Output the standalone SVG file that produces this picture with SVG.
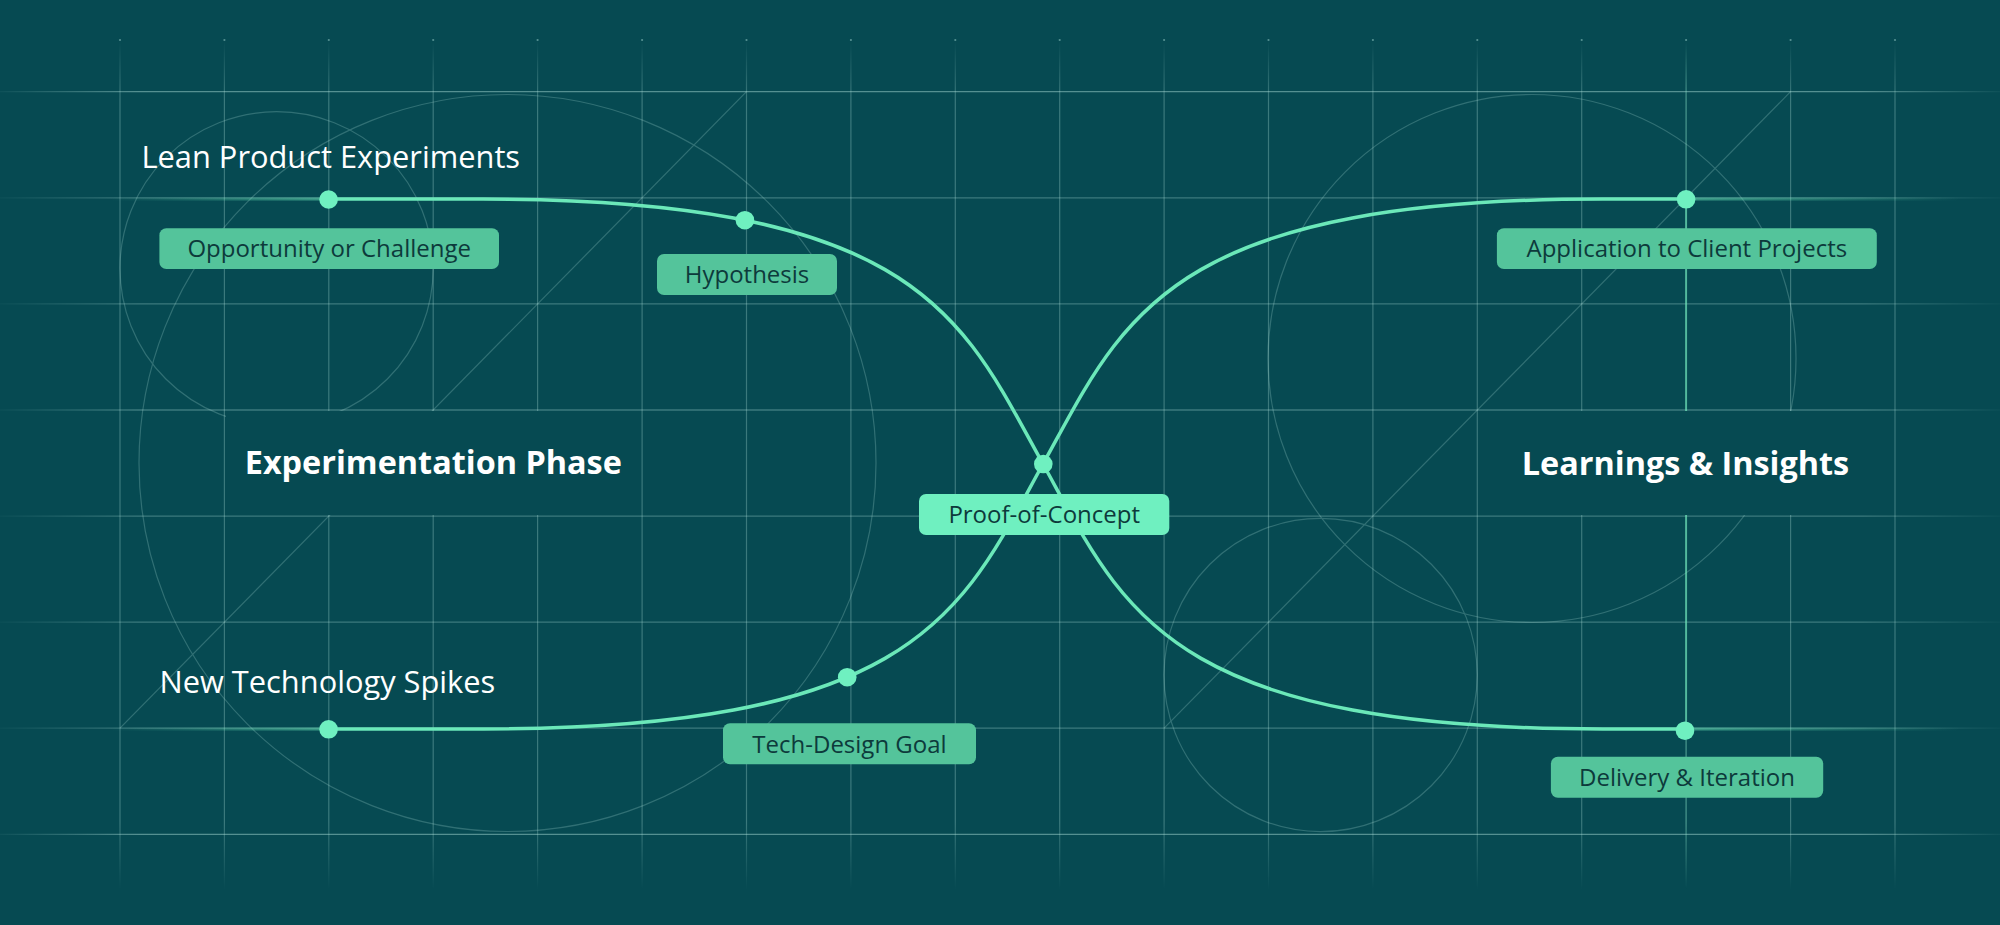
<svg xmlns="http://www.w3.org/2000/svg" width="2000" height="925" viewBox="0 0 2000 925">
  <defs>
    <linearGradient id="gv" gradientUnits="userSpaceOnUse" x1="0" y1="40" x2="0" y2="890">
      <stop offset="0" stop-color="#b5e6df" stop-opacity="0"/>
      <stop offset="0.07" stop-color="#b5e6df" stop-opacity="1"/>
      <stop offset="0.92" stop-color="#b5e6df" stop-opacity="1"/>
      <stop offset="1" stop-color="#b5e6df" stop-opacity="0"/>
    </linearGradient>
    <linearGradient id="gh" gradientUnits="userSpaceOnUse" x1="0" y1="0" x2="2000" y2="0">
      <stop offset="0" stop-color="#b5e6df" stop-opacity="0.1"/>
      <stop offset="0.07" stop-color="#b5e6df" stop-opacity="1"/>
      <stop offset="0.93" stop-color="#b5e6df" stop-opacity="1"/>
      <stop offset="1" stop-color="#b5e6df" stop-opacity="0.1"/>
    </linearGradient>
    <linearGradient id="gvg" gradientUnits="userSpaceOnUse" x1="0" y1="40" x2="0" y2="890">
      <stop offset="0" stop-color="#6be8b9" stop-opacity="0"/>
      <stop offset="0.07" stop-color="#6be8b9" stop-opacity="1"/>
      <stop offset="0.92" stop-color="#6be8b9" stop-opacity="1"/>
      <stop offset="1" stop-color="#6be8b9" stop-opacity="0"/>
    </linearGradient>
    <linearGradient id="tailL" gradientUnits="userSpaceOnUse" x1="110" y1="0" x2="328" y2="0">
      <stop offset="0" stop-color="#6be8b9" stop-opacity="0"/>
      <stop offset="1" stop-color="#6be8b9" stop-opacity="0.5"/>
    </linearGradient>
    <linearGradient id="tailR" gradientUnits="userSpaceOnUse" x1="1686" y1="0" x2="1960" y2="0">
      <stop offset="0" stop-color="#6be8b9" stop-opacity="0.5"/>
      <stop offset="1" stop-color="#6be8b9" stop-opacity="0"/>
    </linearGradient>
    <mask id="blocks" maskUnits="userSpaceOnUse" x="0" y="0" width="2000" height="925">
      <rect x="0" y="0" width="2000" height="925" fill="#fff"/>
      <rect x="226" y="411" width="414" height="104" fill="#000"/>
      <rect x="1479" y="411" width="414" height="104" fill="#000"/>
    </mask>
    <style>
      .vl { stroke: url(#gv); stroke-width: 1.2; fill: none; }
      .hl { stroke: url(#gh); stroke-width: 1.3; fill: none; }
      .deco { stroke: #b5e6df; stroke-width: 1.2; fill: none; }
      .tick { fill: #b5e6df; }
      .curve { stroke: #6be8b9; stroke-width: 3.5; fill: none; stroke-linecap: round; }
      .dot { fill: #6ff0c0; }
      .box { fill: #54c49b; }
      .boxhi { fill: #6ff0c0; }
      .lbl { font-family: 'Open Sans', 'Noto Sans', sans-serif; font-size: 24px; fill: #0d3a3b; text-anchor: middle; }
      .title { font-family: 'Open Sans', 'Noto Sans', sans-serif; font-size: 30.8px; fill: #ffffff; }
      .phase { font-family: 'Open Sans', 'Noto Sans', sans-serif; font-size: 32.4px; font-weight: 700; fill: #ffffff; text-anchor: middle; }
    </style>
  </defs>

  <rect id="background" x="0" y="0" width="2000" height="925" fill="#064a52"/>

  <g id="grid">
    <g opacity="0.3">
      <line class="hl" x1="0" y1="197.8" x2="2000" y2="197.8"/>
      <line class="hl" x1="0" y1="303.9" x2="2000" y2="303.9"/>
      <line class="hl" x1="0" y1="410" x2="2000" y2="410"/>
      <line class="hl" x1="0" y1="516.1" x2="2000" y2="516.1"/>
      <line class="hl" x1="0" y1="622.2" x2="2000" y2="622.2"/>
      <line class="hl" x1="0" y1="728.2" x2="2000" y2="728.2"/>
    </g>
    <g opacity="0.45">
      <line class="hl" x1="0" y1="91.7" x2="2000" y2="91.7" stroke-width="1.6"/>
      <line class="hl" x1="0" y1="834.3" x2="2000" y2="834.3" stroke-width="1.6"/>
    </g>
    <g opacity="0.3" mask="url(#blocks)">
      <line class="vl" x1="120" y1="40" x2="120" y2="890"/>
      <line class="vl" x1="224.4" y1="40" x2="224.4" y2="890"/>
      <line class="vl" x1="328.8" y1="40" x2="328.8" y2="890"/>
      <line class="vl" x1="433.2" y1="40" x2="433.2" y2="890"/>
      <line class="vl" x1="537.6" y1="40" x2="537.6" y2="890"/>
      <line class="vl" x1="642.1" y1="40" x2="642.1" y2="890"/>
      <line class="vl" x1="746.5" y1="40" x2="746.5" y2="890"/>
      <line class="vl" x1="850.9" y1="40" x2="850.9" y2="890"/>
      <line class="vl" x1="955.3" y1="40" x2="955.3" y2="890"/>
      <line class="vl" x1="1059.7" y1="40" x2="1059.7" y2="890"/>
      <line class="vl" x1="1164.1" y1="40" x2="1164.1" y2="890"/>
      <line class="vl" x1="1268.5" y1="40" x2="1268.5" y2="890"/>
      <line class="vl" x1="1372.9" y1="40" x2="1372.9" y2="890"/>
      <line class="vl" x1="1477.3" y1="40" x2="1477.3" y2="890"/>
      <line class="vl" x1="1581.7" y1="40" x2="1581.7" y2="890"/>
      <line class="vl" x1="1686.1" y1="40" x2="1686.1" y2="890"/>
      <line class="vl" x1="1790.6" y1="40" x2="1790.6" y2="890"/>
      <line class="vl" x1="1895" y1="40" x2="1895" y2="890"/>
    </g>
    <g opacity="0.45">
      <circle class="tick" cx="120" cy="40" r="1.1"/>
      <circle class="tick" cx="224.4" cy="40" r="1.1"/>
      <circle class="tick" cx="328.8" cy="40" r="1.1"/>
      <circle class="tick" cx="433.2" cy="40" r="1.1"/>
      <circle class="tick" cx="537.6" cy="40" r="1.1"/>
      <circle class="tick" cx="642.1" cy="40" r="1.1"/>
      <circle class="tick" cx="746.5" cy="40" r="1.1"/>
      <circle class="tick" cx="850.9" cy="40" r="1.1"/>
      <circle class="tick" cx="955.3" cy="40" r="1.1"/>
      <circle class="tick" cx="1059.7" cy="40" r="1.1"/>
      <circle class="tick" cx="1164.1" cy="40" r="1.1"/>
      <circle class="tick" cx="1268.5" cy="40" r="1.1"/>
      <circle class="tick" cx="1372.9" cy="40" r="1.1"/>
      <circle class="tick" cx="1477.3" cy="40" r="1.1"/>
      <circle class="tick" cx="1581.7" cy="40" r="1.1"/>
      <circle class="tick" cx="1686.1" cy="40" r="1.1"/>
      <circle class="tick" cx="1790.6" cy="40" r="1.1"/>
      <circle class="tick" cx="1895" cy="40" r="1.1"/>
    </g>
    <g opacity="0.24" mask="url(#blocks)">
      <circle class="deco" cx="276.6" cy="268.3" r="156.6"/>
      <circle class="deco" cx="507.5" cy="463" r="368.5"/>
      <circle class="deco" cx="1532" cy="358.5" r="264"/>
      <circle class="deco" cx="1320.6" cy="675" r="156.6"/>
      <line class="deco" x1="120" y1="728.2" x2="746.5" y2="91.7"/>
      <line class="deco" x1="1164.1" y1="728.2" x2="1790.6" y2="91.7"/>
    </g>
    <g mask="url(#blocks)">
      <line x1="1686.1" y1="40" x2="1686.1" y2="890" stroke="url(#gvg)" stroke-width="1.5" opacity="0.2"/>
      <line x1="1686.1" y1="199" x2="1686.1" y2="729" stroke="#6be8b9" stroke-width="2" opacity="0.55"/>
    </g>
  </g>

  <g id="connectors">
    <line x1="110" y1="199" x2="328" y2="199" stroke="url(#tailL)" stroke-width="3"/>
    <line x1="110" y1="729" x2="328" y2="729" stroke="url(#tailL)" stroke-width="3"/>
    <line x1="1686" y1="199" x2="1960" y2="199" stroke="url(#tailR)" stroke-width="3"/>
    <line x1="1686" y1="729" x2="1960" y2="729" stroke="url(#tailR)" stroke-width="3"/>
    <path id="curve-lean" class="curve" d="M 328,199 H 483 C 923,199 963,320 1043,464 C 1123,608 1163,729 1603,729 H 1686"/>
    <path id="curve-tech" class="curve" d="M 328,729 H 483 C 923,729 963,608 1043,464 C 1123,320 1163,199 1603,199 H 1686"/>
  </g>

  <g id="node-lean-product-experiments">
    <text class="title" x="141.5" y="168">Lean Product Experiments</text>
    <circle class="dot" cx="328.6" cy="199.5" r="9.3"/>
  </g>
  <g id="node-opportunity">
    <rect class="box" x="159.4" y="228.3" width="339.6" height="40.7" rx="7"/>
    <text class="lbl" x="329.2" y="257">Opportunity or Challenge</text>
  </g>
  <g id="node-hypothesis">
    <circle class="dot" cx="744.9" cy="220.2" r="9.3"/>
    <rect class="box" x="657" y="254" width="180" height="41" rx="7"/>
    <text class="lbl" x="747" y="283">Hypothesis</text>
  </g>
  <g id="node-experimentation-phase">
    <text class="phase" x="433.3" y="474">Experimentation Phase</text>
  </g>
  <g id="node-new-technology-spikes">
    <text class="title" x="159.5" y="693">New Technology Spikes</text>
    <circle class="dot" cx="328.6" cy="729.3" r="9.3"/>
  </g>
  <g id="node-tech-design-goal">
    <circle class="dot" cx="847.2" cy="677.2" r="9.3"/>
    <rect class="box" x="723" y="723.3" width="253" height="41" rx="7"/>
    <text class="lbl" x="849.5" y="752.5">Tech-Design Goal</text>
  </g>
  <g id="node-proof-of-concept">
    <circle class="dot" cx="1043.3" cy="464" r="9.3"/>
    <rect class="boxhi" x="919" y="494" width="250.3" height="41" rx="7"/>
    <text class="lbl" x="1044.2" y="523">Proof-of-Concept</text>
  </g>
  <g id="node-application">
    <circle class="dot" cx="1686.1" cy="199.3" r="9.3"/>
    <rect class="box" x="1496.9" y="228.3" width="379.9" height="40.7" rx="7"/>
    <text class="lbl" x="1686.8" y="257">Application to Client Projects</text>
  </g>
  <g id="node-learnings">
    <text class="phase" x="1685.5" y="475">Learnings &amp; Insights</text>
  </g>
  <g id="node-delivery">
    <circle class="dot" cx="1685" cy="730.7" r="9.3"/>
    <rect class="box" x="1550.9" y="756.7" width="272.3" height="41" rx="7"/>
    <text class="lbl" x="1687" y="786">Delivery &amp; Iteration</text>
  </g>
</svg>
